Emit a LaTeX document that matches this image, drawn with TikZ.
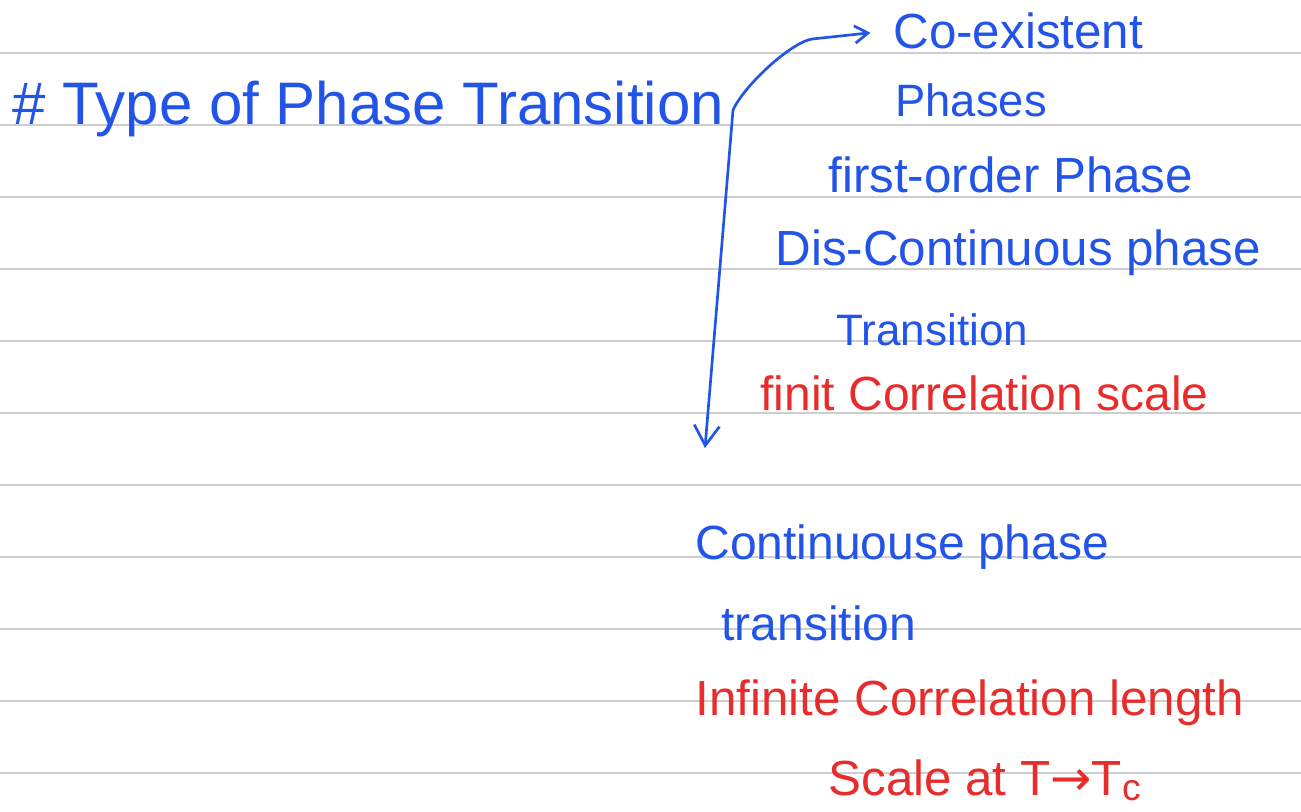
\documentclass[tikz,border=0pt]{standalone}
\usepackage{fontspec}
\setmainfont{Liberation Sans}
\newfontfamily\symfont{DejaVu Sans}
\usetikzlibrary{arrows.meta}

\definecolor{inkblue}{RGB}{34,84,232}
\definecolor{inkred}{RGB}{232,44,44}
\definecolor{ruling}{RGB}{206,206,206}

\tikzset{every picture/.style={line width=0.75pt}}
\tikzset{
  rule/.style={draw=ruling, line width=1.5pt},
  pen/.style={draw=inkblue, line width=2pt, line cap=round, line join=round},
  note/.style={anchor=base west, inner sep=0pt, font=\fontsize{37}{40}\selectfont},
  bluenote/.style={note, text=inkblue},
  rednote/.style={note, text=inkred},
}

\begin{document}
\begin{tikzpicture}[x=0.75pt,y=0.75pt,yscale=-1,xscale=1]
	%set diagram size
	\path[fill=white] (0,0) rectangle (1301,811);
	\useasboundingbox (0,0) rectangle (1301,811);

	%Straight Lines [ruled paper]
	\draw[rule] (0,53) -- (1301,53) ;
	\draw[rule] (0,125) -- (1301,125) ;
	\draw[rule] (0,197) -- (1301,197) ;
	\draw[rule] (0,269) -- (1301,269) ;
	\draw[rule] (0,341) -- (1301,341) ;
	\draw[rule] (0,413) -- (1301,413) ;
	\draw[rule] (0,485) -- (1301,485) ;
	\draw[rule] (0,557) -- (1301,557) ;
	\draw[rule] (0,629) -- (1301,629) ;
	\draw[rule] (0,701) -- (1301,701) ;
	\draw[rule] (0,773) -- (1301,773) ;

	%Text Node [title]
	\node[bluenote, font=\fontsize{45}{48}\selectfont] (title) at (12,124) {\# Type of Phase Transition};

	%Text Node [first branch]
	\node[bluenote] (coex) at (893,48) {Co-existent};
	\node[bluenote, font=\fontsize{34}{38}\selectfont] (phases) at (895,116) {Phases};
	\node[bluenote] (first) at (828,192) {first-order Phase};
	\node[bluenote] (discont) at (775,265) {Dis-Continuous phase};
	\node[bluenote, font=\fontsize{33}{36}\selectfont] (transi) at (836,345) {Transition};
	\node[rednote, font=\fontsize{36}{40}\selectfont] (finite) at (760,410) {finit Correlation scale};

	%Text Node [second branch]
	\node[bluenote, font=\fontsize{36}{40}\selectfont] (cont) at (695,559) {Continuouse phase};
	\node[bluenote, font=\fontsize{36}{40}\selectfont] (trans) at (721,640) {transition};
	\node[rednote] (infinite) at (695,715) {Infinite Correlation length};
	\node[rednote] (scale) at (828,795) {Scale at T{\symfont →}T\raisebox{-0.12em}{\fontsize{28}{30}\selectfont c}};

	%Straight Lines [arrows]
	\coordinate (fork) at (733,110);
	\coordinate (tip) at (705,448);
	\draw[pen, -{Straight Barb[length=10pt,width=13pt,line width=2pt]}, shorten >=17pt] (fork) .. controls (745,84) and (792,42) .. (812,39) -- (coex.west) ;
	\draw[pen, -{Straight Barb[length=15pt,width=19pt,line width=2pt]}] (fork) -- (tip) ;

\end{tikzpicture}
\end{document}
